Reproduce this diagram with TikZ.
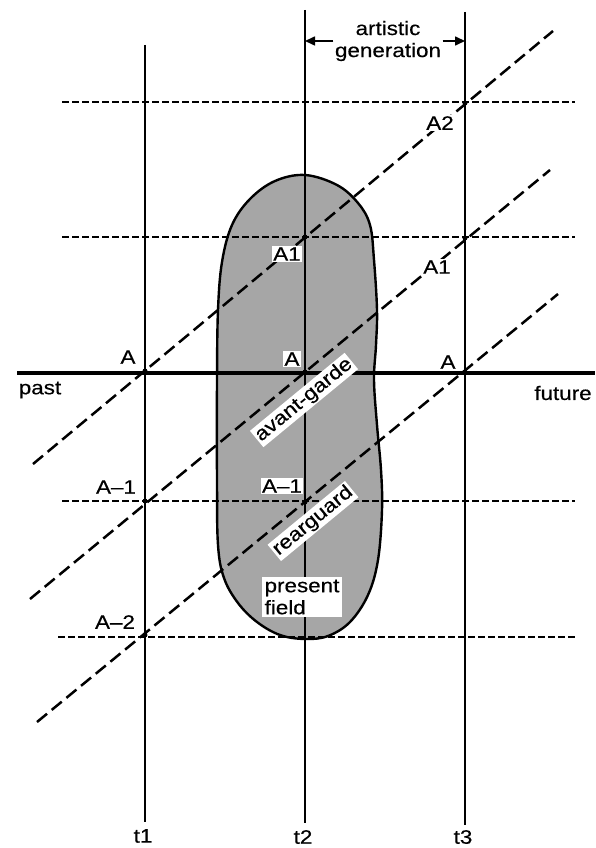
\documentclass[tikz,border=0pt]{standalone}
\usepackage{fontspec}
\setmainfont{Liberation Sans}[FakeStretch=1.15,FakeBold=0.4]
\usetikzlibrary{arrows.meta}
\tikzset{
  vline/.style={line width=1.8pt},
  hdash/.style={line width=1.5pt, dash pattern=on 7pt off 3pt},
  diag/.style={line width=2.5pt, dash pattern=on 13pt off 6pt},
  thickline/.style={line width=4pt},
  lbl/.style={font=\fontsize{19.5pt}{22pt}\selectfont, inner sep=1.5pt},
  wlbl/.style={lbl, fill=white},
  blobstyle/.style={fill=black!35, draw=black, line width=2.4pt},
  arr/.style={line width=1.6pt, -{Triangle[length=10pt,width=9pt]}},
  crossdot/.style={fill=black, circle, inner sep=0pt, minimum size=5pt},
}
\begin{document}
\begin{tikzpicture}[x=1pt,y=-1pt]
\useasboundingbox (0,0) rectangle (595,848);
% blob (present field)
\draw[blobstyle] plot[smooth cycle, tension=0.6] coordinates {
 (305,175) (337,185) (358,203) (370,225) (374,260) (377,310) (376,345)
 (374,380) (377,425) (381,470) (382,510) (378,560) (368,595) (350,622)
 (328,636) (305,639) (280,635) (257,622) (238,603) (224,578) (218,545)
 (217,480) (217,380) (218,310) (222,262) (232,225) (250,199) (275,181)};
% coordinates
\coordinate (t1top) at (145,45);  \coordinate (t1bot) at (145,822);
\coordinate (t2top) at (305,10);  \coordinate (t2bot) at (305,823);
\coordinate (t3top) at (465,12);  \coordinate (t3bot) at (465,825);
\coordinate (h1l) at (62,102);  \coordinate (h1r) at (575,102);
\coordinate (h2l) at (62,237);  \coordinate (h2r) at (575,237);
\coordinate (h4l) at (62,501);  \coordinate (h4r) at (575,501);
\coordinate (h5l) at (58,637);  \coordinate (h5r) at (575,637);
\coordinate (past) at (17,373); \coordinate (fut) at (595,373);
\coordinate (d1a) at (33,464);  \coordinate (d1b) at (553,31);
\coordinate (d2a) at (30,599);  \coordinate (d2b) at (550,170);
\coordinate (d3a) at (37,722);  \coordinate (d3b) at (558,294);
% vertical time lines
\draw[vline] (t1top) -- (t1bot);
\draw[vline] (t2top) -- (t2bot);
\draw[vline] (t3top) -- (t3bot);
% horizontal dashed lines
\draw[hdash] (h1l) -- (h1r);
\draw[hdash] (h2l) -- (h2r);
\draw[hdash] (h4l) -- (h4r);
\draw[hdash] (h5l) -- (h5r);
% thick past-future line
\draw[thickline] (past) -- (fut);
% diagonals
\draw[diag] (d1a) -- (d1b);
\draw[diag] (d2a) -- (d2b);
\draw[diag] (d3a) -- (d3b);
% intersection dots
\node[crossdot] (x11) at (145,371) {};
\node[crossdot] (x12) at (305,237) {};
\node[crossdot] (x13) at (465,103) {};
\node[crossdot] (x21) at (145,501) {};
\node[crossdot] (x22) at (305,372) {};
\node[crossdot] (x23) at (465,238) {};
\node[crossdot] (x31) at (145,635) {};
\node[crossdot] (x32) at (305,502) {};
\node[crossdot] (x33) at (465,372) {};
% artistic generation
\node[lbl, align=center] (ag) at (388,41) {artistic\\generation};
\draw[arr] (ag.west) -- (ag.west -| t2top);
\draw[arr] (ag.east) -- (ag.east -| t3top);
% labels
\node[wlbl] (lA1) at (128,357) {A};
\node[wlbl] (lAm1) at (116,487) {A–1};
\node[wlbl] (lAm2) at (115,622) {A–2};
\node[wlbl] (lA2t) at (292,359) {A};
\node[wlbl] (lA1t) at (287,254) {A1};
\node[wlbl] (lAm1t) at (282,486) {A–1};
\node[wlbl] (lA3) at (448,362) {A};
\node[wlbl] (lA13) at (437,267) {A1};
\node[wlbl] (lA23) at (440,123) {A2};
\node[lbl] (lpast) at (40,390) {past};
\node[lbl] (lfut) at (563,393) {future};
\node[wlbl, rotate=39.5] (lav) at (304,400) {avant-garde};
\node[wlbl, rotate=39.5] (lrg) at (313,521) {rearguard};
\node[wlbl, align=left, inner sep=3pt] (lpf) at (302,597) {present\\field};
\node[lbl] (lt1) at (143,836) {t1};
\node[lbl] (lt2) at (303,837) {t2};
\node[lbl] (lt3) at (463,837) {t3};
\end{tikzpicture}
\end{document}
